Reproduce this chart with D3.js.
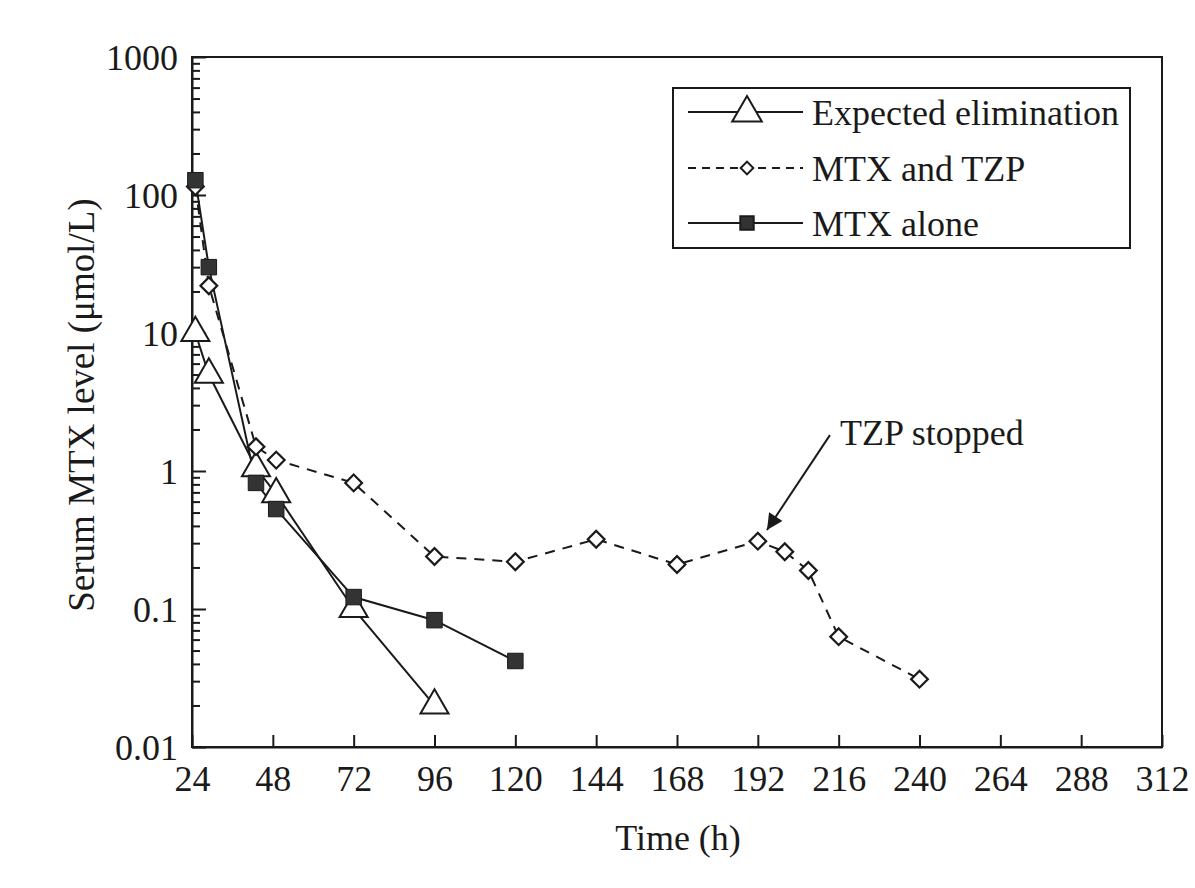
<!DOCTYPE html>
<html>
<head>
<meta charset="utf-8">
<script src="https://cdn.jsdelivr.net/npm/d3@7"></script>
<style>
  html, body { margin: 0; padding: 0; background: #fff; }
  svg text { font-family: "Liberation Serif", "Times New Roman", serif; fill: #1a1a1a; }
</style>
</head>
<body>
<svg id="chart" width="1195" height="888"></svg>
<script>
// ---- data ----
const xTicks = [24, 48, 72, 96, 120, 144, 168, 192, 216, 240, 264, 288, 312];
const yTicks = [0.01, 0.1, 1, 10, 100, 1000];
const yTickLabels = ["0.01", "0.1", "1", "10", "100", "1000"];

const expectedTime = [25, 29, 43, 49, 72, 96];
const expectedLevel = [10, 5, 1.05, 0.68, 0.1, 0.02];

const tzpTime = [25, 29, 43, 49, 72, 96, 120, 144, 168, 192, 200, 207, 216, 240];
const tzpLevel = [115, 22, 1.5, 1.2, 0.82, 0.24, 0.22, 0.32, 0.21, 0.31, 0.26, 0.19, 0.063, 0.031];

const aloneTime = [25, 29, 43, 49, 72, 96, 120];
const aloneLevel = [128, 30, 0.82, 0.53, 0.122, 0.083, 0.042];

const legendLabels = ["Expected elimination", "MTX and TZP", "MTX alone"];

// ---- layout ----
const ink = "#1a1a1a";
const svg = d3.select("#chart");
svg.append("rect").attr("width", 1195).attr("height", 888).attr("fill", "#fff");

const x = d3.scaleLinear().domain([24, 312]).range([192, 1162]);
const y = d3.scaleLog().domain([0.01, 1000]).range([747, 57]);

const zip = (t, v) => t.map((d, i) => [d, v[i]]);
const expected = zip(expectedTime, expectedLevel);
const tzp = zip(tzpTime, tzpLevel);
const alone = zip(aloneTime, aloneLevel);

// frame
svg.append("rect")
  .attr("x", x(24)).attr("y", y(1000))
  .attr("width", x(312) - x(24)).attr("height", y(0.01) - y(1000))
  .attr("fill", "none").attr("stroke", ink).attr("stroke-width", 2);

// x axis (ticks pointing inward)
const xAxis = d3.axisBottom(x).tickValues(xTicks).tickSize(-12).tickSizeOuter(0).tickFormat(d3.format("d"));
const gx = svg.append("g").attr("transform", `translate(0,${y(0.01)})`).call(xAxis);
gx.select(".domain").attr("stroke", ink).attr("stroke-width", 2);
gx.selectAll(".tick line").attr("stroke", ink).attr("stroke-width", 2);
gx.selectAll(".tick text").attr("y", 44).attr("dy", 0).style("font-size", "36px")
  .attr("font-family", "Liberation Serif").attr("fill", ink);

// y axis major ticks
const yAxis = d3.axisLeft(y).tickValues(yTicks).tickSize(-14).tickSizeOuter(0)
  .tickFormat((d, i) => yTickLabels[i]);
const gy = svg.append("g").attr("transform", `translate(${x(24)},0)`).call(yAxis);
gy.select(".domain").attr("stroke", ink).attr("stroke-width", 2);
gy.selectAll(".tick line").attr("stroke", ink).attr("stroke-width", 2);
gy.selectAll(".tick text").attr("x", -14).attr("dy", "0.35em").style("font-size", "36px")
  .attr("font-family", "Liberation Serif").attr("fill", ink);

// y minor ticks
const minor = [];
[0.01, 0.1, 1, 10, 100].forEach(b => { for (let k = 2; k <= 9; k++) minor.push(b * k); });
const yMinor = d3.axisLeft(y).tickValues(minor).tickSize(-8).tickFormat("");
const gym = svg.append("g").attr("transform", `translate(${x(24)},0)`).call(yMinor);
gym.select(".domain").remove();
gym.selectAll(".tick line").attr("stroke", ink).attr("stroke-width", 2);

// axis titles
svg.append("text").attr("x", 678).attr("y", 850).attr("text-anchor", "middle")
  .style("font-size", "36px").text("Time (h)");
svg.append("text").attr("transform", "translate(94,405) rotate(-90)").attr("text-anchor", "middle")
  .style("font-size", "37px").text("Serum MTX level (\u03bcmol/L)");

// lines
const line = d3.line().x(d => x(d[0])).y(d => y(d[1]));
svg.append("path").datum(expected).attr("d", line).attr("fill", "none").attr("stroke", ink).attr("stroke-width", 2);
svg.append("path").datum(tzp).attr("d", line).attr("fill", "none").attr("stroke", ink).attr("stroke-width", 2)
  .attr("stroke-dasharray", "10,8");
svg.append("path").datum(alone).attr("d", line).attr("fill", "none").attr("stroke", ink).attr("stroke-width", 2);

// markers
const tri = d3.symbol().type(d3.symbolTriangle).size(340);
const dia = d3.symbol().type(d3.symbolSquare).size(140);
const sq = d3.symbol().type(d3.symbolSquare).size(240);

svg.append("g").selectAll("path").data(expected).join("path")
  .attr("d", tri).attr("transform", d => `translate(${x(d[0])},${y(d[1])})`)
  .attr("fill", "#fff").attr("stroke", ink).attr("stroke-width", 2);
svg.append("g").selectAll("path").data(tzp).join("path")
  .attr("d", dia).attr("transform", d => `translate(${x(d[0])},${y(d[1])}) rotate(45)`)
  .attr("fill", "#fff").attr("stroke", ink).attr("stroke-width", 2.2);
svg.append("g").selectAll("path").data(alone).join("path")
  .attr("d", sq).attr("transform", d => `translate(${x(d[0])},${y(d[1])})`)
  .attr("fill", "#333").attr("stroke", ink).attr("stroke-width", 1);

// legend
const lg = svg.append("g");
lg.append("rect").attr("x", 673).attr("y", 88).attr("width", 457).attr("height", 160)
  .attr("fill", "#fff").attr("stroke", ink).attr("stroke-width", 2);
const rowsY = [112, 168, 223];
legendLabels.forEach((lab, i) => {
  const ry = rowsY[i];
  lg.append("line").attr("x1", 688).attr("x2", 803).attr("y1", ry).attr("y2", ry)
    .attr("stroke", ink).attr("stroke-width", 2)
    .attr("stroke-dasharray", i === 1 ? "8,6" : null);
  let m;
  if (i === 0) m = lg.append("path").attr("d", d3.symbol().type(d3.symbolTriangle).size(380)())
    .attr("transform", `translate(747,${ry + 1})`).attr("fill", "#fff");
  else if (i === 1) m = lg.append("path").attr("d", d3.symbol().type(d3.symbolSquare).size(80)())
    .attr("transform", `translate(747,${ry}) rotate(45)`).attr("fill", "#fff");
  else m = lg.append("path").attr("d", d3.symbol().type(d3.symbolSquare).size(180)())
    .attr("transform", `translate(747,${ry})`).attr("fill", "#333");
  m.attr("stroke", ink).attr("stroke-width", 2);
  lg.append("text").attr("x", 812).attr("y", ry).attr("dy", "0.35em")
    .style("font-size", "36px").text(lab);
});

// annotation
const defs = svg.append("defs");
defs.append("marker").attr("id", "arrow").attr("viewBox", "0 0 10 10")
  .attr("refX", 10).attr("refY", 5).attr("markerWidth", 24).attr("markerHeight", 16)
  .attr("markerUnits", "userSpaceOnUse").attr("orient", "auto")
  .append("path").attr("d", "M0,0 L10,5 L0,10 Z").attr("fill", ink);
svg.append("line")
  .attr("x1", x(213.4)).attr("y1", y(1.82))
  .attr("x2", x(194.7)).attr("y2", y(0.374))
  .attr("stroke", ink).attr("stroke-width", 2).attr("marker-end", "url(#arrow)");
svg.append("text").attr("x", x(216.4)).attr("y", y(1.55)).style("font-size", "36px").text("TZP stopped");
</script>
</body>
</html>
